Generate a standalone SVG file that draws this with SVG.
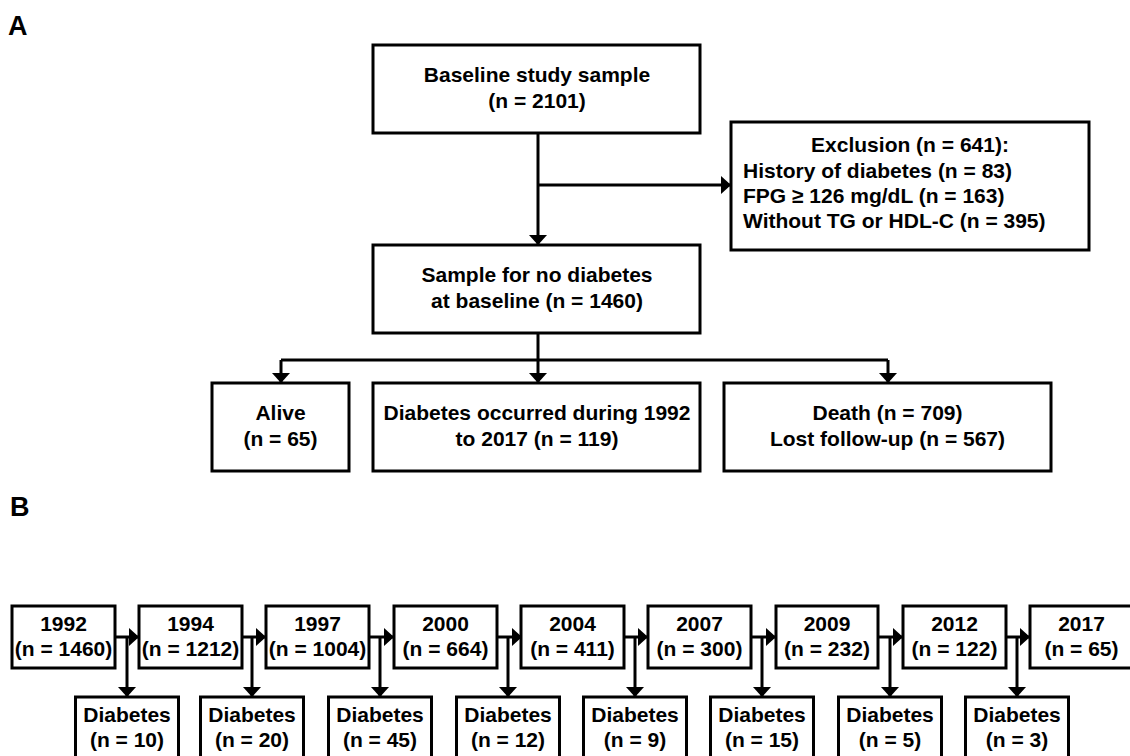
<svg xmlns="http://www.w3.org/2000/svg" width="1130" height="756" viewBox="0 0 1130 756">
<style>
.box{fill:#fff;stroke:#000;stroke-width:3}
.t{font-family:"Liberation Sans",Arial,Helvetica,sans-serif;font-weight:bold;font-size:21px;fill:#000;text-anchor:middle}
.tl{text-anchor:start}
.lbl{font-family:"Liberation Sans",Arial,Helvetica,sans-serif;font-weight:bold;font-size:27px;fill:#000}
.c{fill:none;stroke:#000;stroke-width:3}
.a{marker-end:url(#ah)}
</style>
<defs>
<marker id="ah" viewBox="0 0 10 18" refX="9" refY="9" markerWidth="10" markerHeight="18" markerUnits="userSpaceOnUse" orient="auto">
<path d="M0,0 L10,9 L0,18 z" fill="#000"/>
</marker>
</defs>
<rect width="1130" height="756" fill="#fff"/>
<text class="lbl" x="8" y="35">A</text>
<text class="lbl" x="10" y="516">B</text>

<g id="connectors">
<path class="c a" d="M538,133 V244"/>
<path class="c a" d="M538,185 H730"/>
<path class="c a" d="M538,333 V382"/>
<path class="c" d="M281,360 H888"/>
<path class="c a" d="M281,360 V382"/>
<path class="c a" d="M888,360 V382"/>
<path class="c a" d="M115,637 H138"/>
<path class="c a" d="M127,637 V696"/>
<path class="c a" d="M242,637 H265"/>
<path class="c a" d="M252,637 V696"/>
<path class="c a" d="M369,637 H393"/>
<path class="c a" d="M380,637 V696"/>
<path class="c a" d="M497,637 H521"/>
<path class="c a" d="M508,637 V696"/>
<path class="c a" d="M624,637 H647"/>
<path class="c a" d="M635,637 V696"/>
<path class="c a" d="M751,637 H775"/>
<path class="c a" d="M762,637 V696"/>
<path class="c a" d="M878,637 H902"/>
<path class="c a" d="M890,637 V696"/>
<path class="c a" d="M1006,637 H1029"/>
<path class="c a" d="M1017,637 V696"/>
</g>

<g id="baseline">
<rect class="box" x="373" y="45" width="327" height="88"/>
<text class="t" x="537" y="82">Baseline study sample</text>
<text class="t" x="537" y="108">(n = 2101)</text>
</g>
<g id="exclusion">
<rect class="box" x="731" y="122" width="358" height="128"/>
<text class="t" x="910" y="152">Exclusion (n = 641):</text>
<text class="t tl" x="743" y="178">History of diabetes (n = 83)</text>
<text class="t tl" x="743" y="203">FPG ≥ 126 mg/dL (n = 163)</text>
<text class="t tl" x="743" y="228">Without TG or HDL-C (n = 395)</text>
</g>
<g id="sample">
<rect class="box" x="373" y="245" width="327" height="88"/>
<text class="t" x="537" y="282">Sample for no diabetes</text>
<text class="t" x="537" y="308">at baseline (n = 1460)</text>
</g>
<g id="alive">
<rect class="box" x="212" y="383" width="137" height="88"/>
<text class="t" x="280.5" y="420">Alive</text>
<text class="t" x="280.5" y="446">(n = 65)</text>
</g>
<g id="diabetes-occurred">
<rect class="box" x="373" y="383" width="327" height="88"/>
<text class="t" x="537" y="420">Diabetes occurred during 1992</text>
<text class="t" x="537" y="446">to 2017 (n = 119)</text>
</g>
<g id="death">
<rect class="box" x="724" y="383" width="327" height="88"/>
<text class="t" x="887.5" y="420">Death (n = 709)</text>
<text class="t" x="887.5" y="446">Lost follow-up (n = 567)</text>
</g>

<g id="y1992"><rect class="box" x="12" y="606" width="103" height="62"/><text class="t" x="63.5" y="631">1992</text><text class="t" x="63.5" y="656">(n = 1460)</text></g>
<g id="y1994"><rect class="box" x="139" y="606" width="103" height="62"/><text class="t" x="190.5" y="631">1994</text><text class="t" x="190.5" y="656">(n = 1212)</text></g>
<g id="y1997"><rect class="box" x="266" y="606" width="103" height="62"/><text class="t" x="317.5" y="631">1997</text><text class="t" x="317.5" y="656">(n = 1004)</text></g>
<g id="y2000"><rect class="box" x="394" y="606" width="103" height="62"/><text class="t" x="445.5" y="631">2000</text><text class="t" x="445.5" y="656">(n = 664)</text></g>
<g id="y2004"><rect class="box" x="521" y="606" width="103" height="62"/><text class="t" x="572.5" y="631">2004</text><text class="t" x="572.5" y="656">(n = 411)</text></g>
<g id="y2007"><rect class="box" x="648" y="606" width="103" height="62"/><text class="t" x="699.5" y="631">2007</text><text class="t" x="699.5" y="656">(n = 300)</text></g>
<g id="y2009"><rect class="box" x="776" y="606" width="102" height="62"/><text class="t" x="827" y="631">2009</text><text class="t" x="827" y="656">(n = 232)</text></g>
<g id="y2012"><rect class="box" x="903" y="606" width="103" height="62"/><text class="t" x="954.5" y="631">2012</text><text class="t" x="954.5" y="656">(n = 122)</text></g>
<g id="y2017"><rect class="box" x="1030" y="606" width="103" height="62"/><text class="t" x="1081.5" y="631">2017</text><text class="t" x="1081.5" y="656">(n = 65)</text></g>

<g id="d1"><rect class="box" x="75.5" y="697" width="103" height="65"/><text class="t" x="127" y="722">Diabetes</text><text class="t" x="127" y="747">(n = 10)</text></g>
<g id="d2"><rect class="box" x="200.5" y="697" width="103" height="65"/><text class="t" x="252" y="722">Diabetes</text><text class="t" x="252" y="747">(n = 20)</text></g>
<g id="d3"><rect class="box" x="328.5" y="697" width="103" height="65"/><text class="t" x="380" y="722">Diabetes</text><text class="t" x="380" y="747">(n = 45)</text></g>
<g id="d4"><rect class="box" x="456.5" y="697" width="103" height="65"/><text class="t" x="508" y="722">Diabetes</text><text class="t" x="508" y="747">(n = 12)</text></g>
<g id="d5"><rect class="box" x="583.5" y="697" width="103" height="65"/><text class="t" x="635" y="722">Diabetes</text><text class="t" x="635" y="747">(n = 9)</text></g>
<g id="d6"><rect class="box" x="710.5" y="697" width="103" height="65"/><text class="t" x="762" y="722">Diabetes</text><text class="t" x="762" y="747">(n = 15)</text></g>
<g id="d7"><rect class="box" x="838.5" y="697" width="103" height="65"/><text class="t" x="890" y="722">Diabetes</text><text class="t" x="890" y="747">(n = 5)</text></g>
<g id="d8"><rect class="box" x="965.5" y="697" width="103" height="65"/><text class="t" x="1017" y="722">Diabetes</text><text class="t" x="1017" y="747">(n = 3)</text></g>
</svg>
